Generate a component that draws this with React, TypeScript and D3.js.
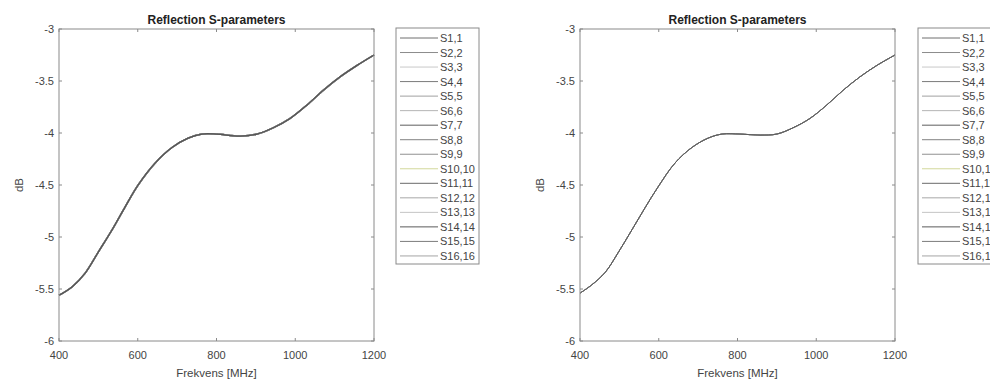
import React from "react";
import * as d3 from "d3";

const freqLeft = [400, 433, 466, 499, 535, 568, 601, 644, 687, 728, 763, 800, 860, 903, 944, 987, 1030, 1071, 1114, 1157, 1200];
const dbLeft = [-5.56, -5.48, -5.35, -5.15, -4.93, -4.71, -4.5, -4.29, -4.14, -4.05, -4.01, -4.01, -4.03, -4.01, -3.95, -3.86, -3.73, -3.59, -3.46, -3.35, -3.25];

const freqRight = [400, 430, 464, 497, 532, 565, 598, 641, 684, 725, 761, 806, 857, 900, 941, 984, 1027, 1068, 1111, 1154, 1200];
const dbRight = [-5.54, -5.46, -5.34, -5.15, -4.93, -4.72, -4.52, -4.29, -4.14, -4.05, -4.01, -4.01, -4.02, -4.01, -3.95, -3.86, -3.73, -3.59, -3.46, -3.35, -3.25];

const seriesNames = ["S1,1", "S2,2", "S3,3", "S4,4", "S5,5", "S6,6", "S7,7", "S8,8", "S9,9", "S10,10", "S11,11", "S12,12", "S13,13", "S14,14", "S15,15", "S16,16"];
const seriesColors = ["#6e6e6e", "#8c8c8c", "#c8c8c8", "#7a7a7a", "#a0a0a0", "#b4b4b4", "#5e5e5e", "#828282", "#909090", "#d2d89a", "#6a6a6a", "#a8a8a8", "#c4c4c4", "#5a5a5a", "#7c7c7c", "#a4a4a4"];

const xTicks = [400, 600, 800, 1000, 1200];
const yTicks = [-3, -3.5, -4, -4.5, -5, -5.5, -6];

const FONT = "'Liberation Sans', Arial, sans-serif";

function Panel({ left, freq, db, legendLeft, strokeW }: { left: number; freq: number[]; db: number[]; legendLeft: number; strokeW: number }) {
  const top = 29, bottom = 341, width = 315;
  const x = d3.scaleLinear().domain([400, 1200]).range([left, left + width]);
  const y = d3.scaleLinear().domain([-6, -3]).range([bottom, top]);
  const pts = freq.map((f, i) => [f, db[i]] as [number, number]);
  const line = d3.line<[number, number]>().x(d => x(d[0])).y(d => y(d[1])).curve(d3.curveCatmullRom.alpha(0.5));
  const path = line(pts) || "";
  const rowH = 14.53;
  const legTop = 28;
  const legH = 236;
  return (
    <g>
      <text x={left + width / 2} y={24} textAnchor="middle" fontFamily={FONT} fontWeight="bold" fontSize={12} fill="#222">Reflection S-parameters</text>
      {seriesNames.map((n, i) => (
        <path key={n} d={path} fill="none" stroke={i === 9 ? "#9a9a9a" : seriesColors[i]} strokeWidth={strokeW} opacity={0.35} />
      ))}
      <path d={path} fill="none" stroke="#555" strokeWidth={strokeW * 0.9} />
      <rect x={left} y={top} width={width} height={bottom - top} fill="none" stroke="#8a8a8a" strokeWidth={1} />
      {xTicks.map(t => (
        <g key={t}>
          <line x1={x(t)} x2={x(t)} y1={bottom} y2={bottom - 3} stroke="#8a8a8a" />
          <line x1={x(t)} x2={x(t)} y1={top} y2={top + 3} stroke="#8a8a8a" />
          <text x={x(t)} y={359} textAnchor="middle" fontFamily={FONT} fontSize={11} fill="#444">{t}</text>
        </g>
      ))}
      {yTicks.map(t => (
        <g key={t}>
          <line x1={left} x2={left + 3} y1={y(t)} y2={y(t)} stroke="#8a8a8a" />
          <line x1={left + width} x2={left + width - 3} y1={y(t)} y2={y(t)} stroke="#8a8a8a" />
          <text x={left - 5} y={y(t) + 4} textAnchor="end" fontFamily={FONT} fontSize={11} fill="#444">{t}</text>
        </g>
      ))}
      <text x={left + width / 2} y={377} textAnchor="middle" fontFamily={FONT} fontSize={11.5} fill="#444">Frekvens [MHz]</text>
      <text transform={`translate(${left - 36},${y(-4.5)}) rotate(-90)`} textAnchor="middle" fontFamily={FONT} fontSize={11.5} fill="#444">dB</text>
      <rect x={legendLeft} y={legTop} width={83} height={legH} fill="#fff" stroke="#8a8a8a" strokeWidth={1} />
      {seriesNames.map((n, i) => {
        const yy = 38 + i * rowH;
        return (
          <g key={n}>
            <line x1={legendLeft + 4} x2={legendLeft + 42} y1={yy} y2={yy} stroke={seriesColors[i]} strokeWidth={1} />
            <text x={legendLeft + 44} y={yy + 4} fontFamily={FONT} fontSize={11} fill="#444">{n}</text>
          </g>
        );
      })}
    </g>
  );
}

export default function App() {
  return (
    <svg width={990} height={381} style={{ position: "absolute", left: 0, top: 0, background: "#fff" }}>
      <rect width={990} height={381} fill="#fff" />
      <Panel left={59} freq={freqLeft} db={dbLeft} legendLeft={396} strokeW={1.4} />
      <Panel left={580} freq={freqRight} db={dbRight} legendLeft={918} strokeW={1.0} />
    </svg>
  );
}
